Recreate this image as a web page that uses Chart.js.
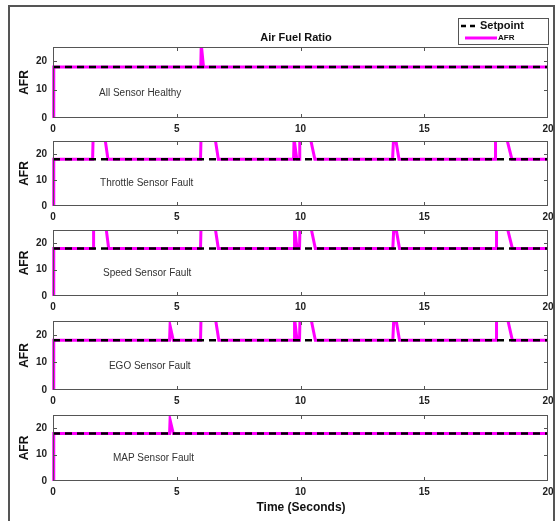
<!DOCTYPE html>
<html>
<head>
<meta charset="utf-8">
<script src="https://cdn.jsdelivr.net/npm/chart.js@4/dist/chart.umd.min.js"></script>
<style>
  body { margin: 0; background: #fff; width: 559px; height: 521px; overflow: hidden; position: relative; }
  #frame { position: absolute; left: 8px; top: 5px; width: 547px; height: 540px; border: 2px solid #555; box-sizing: border-box; }
  canvas { position: absolute; left: 0; }
</style>
</head>
<body>
<div id="frame"></div>
<script>
// ticks
const timeTicks = [0, 5, 10, 15, 20];
const afrTicks = [0, 10, 20];

// setpoint (same on every panel)
const setpointT = [0, 20];
const setpointAFR = [18, 18];

// AFR per case, values above 25 run off the top of the axes
const healthyT   = [0, 0.03, 5.97, 5.99, 6.08, 20];
const healthyAFR = [0, 18, 18, 26, 18, 18];

const throttleT   = [0, 0.03, 1.6, 1.62, 2.1, 2.22, 5.96, 5.98, 6.55, 6.68, 9.72, 9.74, 9.85, 9.95, 9.97, 10.4, 10.58, 13.72, 13.76, 13.84, 13.98, 17.86, 17.88, 18.33, 18.54, 20];
const throttleAFR = [0, 18, 18, 26, 26, 18, 18, 26, 26, 18, 18, 26, 18, 18, 26, 26, 18, 18, 26, 26, 18, 18, 26, 26, 18, 18];

const speedT   = [0, 0.03, 1.62, 1.64, 2.14, 2.25, 5.96, 5.98, 6.55, 6.68, 9.74, 9.76, 9.86, 9.96, 9.98, 10.42, 10.6, 13.73, 13.77, 13.85, 14.0, 17.9, 17.92, 18.35, 18.56, 20];
const speedAFR = [0, 18, 18, 26, 26, 18, 18, 26, 26, 18, 18, 26, 18, 18, 26, 26, 18, 18, 26, 26, 18, 18, 26, 26, 18, 18];

const egoT   = [0, 0.03, 4.71, 4.73, 4.86, 5.96, 5.98, 6.56, 6.7, 9.74, 9.76, 9.86, 9.96, 9.98, 10.42, 10.6, 13.73, 13.77, 13.85, 14.0, 17.9, 17.92, 18.36, 18.56, 20];
const egoAFR = [0, 18, 18, 23.3, 18, 18, 26, 26, 18, 18, 26, 18, 18, 26, 26, 18, 18, 26, 26, 18, 18, 26, 26, 18, 18];

const mapT   = [0, 0.03, 4.71, 4.73, 4.86, 20];
const mapAFR = [0, 18, 18, 23.2, 18, 18];

const caseNames = ['All Sensor Healthy', 'Throttle Sensor Fault', 'Speed Sensor Fault', 'EGO Sensor Fault', 'MAP Sensor Fault'];
const caseSeries = [[healthyT, healthyAFR], [throttleT, throttleAFR], [speedT, speedAFR], [egoT, egoAFR], [mapT, mapAFR]];

// panel placement on the page
const panels = [
  {top: 47, bottom: 118, noteX: 1.86},
  {top: 137, bottom: 206, noteX: 1.90},
  {top: 226, bottom: 296, noteX: 2.02},
  {top: 317, bottom: 390, noteX: 2.26},
  {top: 411, bottom: 481, noteX: 2.42}
];

const FONT = "'Liberation Sans', Arial, sans-serif";
Chart.defaults.font.family = FONT;

//Frame, inner ticks, labels, title and legend
const decor = {
  id: 'decor',
  afterDraw(chart, args, o) {
    const {ctx, chartArea: a, scales: {x, y}} = chart;
    ctx.save();
    ctx.strokeStyle = '#555';
    ctx.lineWidth = 1;
    ctx.beginPath();
    timeTicks.slice(1, -1).forEach(t => {
      const px = Math.round(x.getPixelForValue(t)) + 0.5;
      ctx.moveTo(px, a.bottom); ctx.lineTo(px, a.bottom - 4);
      ctx.moveTo(px, a.top); ctx.lineTo(px, a.top + 4);
    });
    afrTicks.slice(1).forEach(v => {
      const py = Math.round(y.getPixelForValue(v)) + 0.5;
      ctx.moveTo(a.left, py); ctx.lineTo(a.left + 4, py);
      ctx.moveTo(a.right, py); ctx.lineTo(a.right - 4, py);
    });
    ctx.stroke();
    ctx.strokeRect(a.left + 0.5, a.top + 0.5, a.width - 1, a.height - 1);

    // case name
    ctx.fillStyle = '#333';
    ctx.font = '10px ' + FONT;
    ctx.textAlign = 'left';
    ctx.textBaseline = 'middle';
    ctx.fillText(o.note, x.getPixelForValue(o.noteX), y.getPixelForValue(8.6));

    // y title
    ctx.save();
    ctx.translate(25, (a.top + a.bottom) / 2);
    ctx.rotate(-Math.PI / 2);
    ctx.fillStyle = '#111';
    ctx.font = 'bold 12px ' + FONT;
    ctx.textAlign = 'center';
    ctx.fillText('AFR', 0, 0);
    ctx.restore();

    ctx.translate(0, -o.offset);
    if (o.head) {
      ctx.fillStyle = '#111';
      ctx.font = 'bold 11px ' + FONT;
      ctx.textAlign = 'center';
      ctx.fillText('Air Fuel Ratio', 296, 38);

      // legend
      ctx.fillStyle = '#fff';
      ctx.fillRect(458, 18, 90, 26);
      ctx.strokeStyle = '#555';
      ctx.strokeRect(458.5, 18.5, 90, 26);
      ctx.strokeStyle = '#000';
      ctx.lineWidth = 2.5;
      ctx.setLineDash([5, 4]);
      ctx.beginPath(); ctx.moveTo(461, 26); ctx.lineTo(479, 26); ctx.stroke();
      ctx.setLineDash([]);
      ctx.strokeStyle = '#ff00ff';
      ctx.lineWidth = 3;
      ctx.beginPath(); ctx.moveTo(465, 38); ctx.lineTo(497, 38); ctx.stroke();
      ctx.fillStyle = '#111';
      ctx.textAlign = 'left';
      ctx.font = 'bold 11px ' + FONT;
      ctx.fillText('Setpoint', 480, 26);
      ctx.font = 'bold 8px ' + FONT;
      ctx.fillText('AFR', 498, 38);
    }
    if (o.foot) {
      ctx.fillStyle = '#111';
      ctx.font = 'bold 12px ' + FONT;
      ctx.textAlign = 'center';
      ctx.fillText('Time (Seconds)', 301, 508);
    }
    ctx.restore();
  }
};

function toPoints(ts, vs) {
  return ts.map((t, k) => ({x: t, y: vs[k]}));
}

panels.forEach((p, i) => {
  const canvasTop = i === 0 ? 0 : p.top - 8;
  const padTop = p.top - canvasTop;
  const extra = i === panels.length - 1 ? 32 : 0;
  const cv = document.createElement('canvas');
  cv.width = 559;
  cv.height = padTop + (p.bottom - p.top) + 22 + extra;
  cv.style.top = canvasTop + 'px';
  document.body.appendChild(cv);

  new Chart(cv.getContext('2d'), {
    type: 'line',
    data: {
      datasets: [{
        label: 'Setpoint',
        data: toPoints(setpointT, setpointAFR),
        borderColor: '#000',
        borderWidth: 2.5,
        borderDash: [7, 5],
        pointRadius: 0,
        clip: 0
      }, {
        label: 'AFR',
        data: toPoints(caseSeries[i][0], caseSeries[i][1]),
        borderColor: '#ff00ff',
        borderWidth: 3,
        pointRadius: 0,
        tension: 0,
        clip: {left: 2, top: 0, right: 0, bottom: 0}
      }]
    },
    options: {
      responsive: false,
      animation: false,
      events: [],
      layout: {padding: {top: padTop, right: 11, bottom: extra, left: 0}},
      plugins: {
        legend: {display: false},
        tooltip: {enabled: false},
        decor: {note: caseNames[i], noteX: p.noteX, offset: canvasTop, head: i === 0, foot: i === panels.length - 1}
      },
      scales: {
        x: {
          type: 'linear',
          min: 0, max: 20,
          afterBuildTicks: s => { s.ticks = timeTicks.map(v => ({value: v})); },
          afterFit: s => { s.height = 22; },
          grid: {display: false, drawTicks: false, tickLength: 0},
          border: {display: false},
          ticks: {font: {size: 10, weight: 'bold'}, color: '#222', padding: 5, maxRotation: 0}
        },
        y: {
          min: 0, max: 25,
          afterBuildTicks: s => { s.ticks = afrTicks.map(v => ({value: v})); },
          afterFit: s => { s.width = 53; },
          grid: {display: false, drawTicks: false, tickLength: 0},
          border: {display: false},
          ticks: {font: {size: 10, weight: 'bold'}, color: '#222', padding: 6}
        }
      }
    },
    plugins: [decor]
  });
});
</script>
</body>
</html>
